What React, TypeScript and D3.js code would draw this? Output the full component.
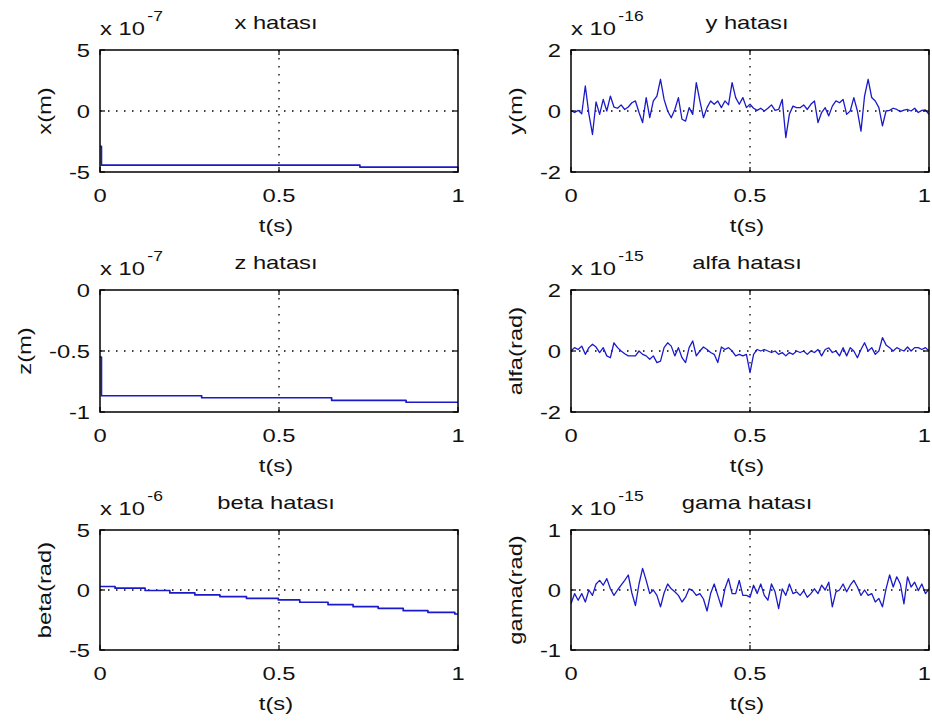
import React from 'react';
import * as d3 from 'd3';

// ---------- data ----------
const X_TICKS = [0, 0.5, 1];
const X_TICK_LABELS = ['0', '0.5', '1'];

// x hatası (x 1e-7) – step data
const X_T = [0, 0.004, 0.726, 1];
const X_V = [-2.9, -4.43, -4.6, -4.6];

// z hatası (x 1e-7) – step data
const Z_T = [0, 0.004, 0.284, 0.647, 0.855, 1];
const Z_V = [-0.55, -0.867, -0.883, -0.904, -0.92, -0.92];

// beta hatası (x 1e-6) – step data
const B_T = [0, 0.042, 0.126, 0.195, 0.265, 0.335, 0.409, 0.498, 0.558, 0.637, 0.707, 0.777, 0.847, 0.916, 0.991, 1];
const B_V = [0.29, 0.15, -0.04, -0.24, -0.41, -0.55, -0.69, -0.83, -1.02, -1.22, -1.39, -1.53, -1.72, -1.86, -2.0, -2.0];

// sample times of the simulation, 0 : 0.01 : 1
const T_SAMPLES = d3.range(101).map((i) => i / 100);

// y hatası (x 1e-16)
const Y_V = [
  0.02, -0.05, 0.02, -0.09, 0.82, -0.1, -0.77, 0.3, -0.11, 0.38,
  0, 0.49, 0.13, 0.09, 0.2, 0.05, 0.13, 0.27, 0.33, -0.05,
  -0.38, 0.44, -0.22, 0.33, 0.49, 1.04, 0.38, 0, -0.22, 0.05,
  0.44, -0.27, -0.33, 0.11, -0.11, 0.93, 0.33, -0.22, 0.11, 0.33,
  0.22, 0.33, 0.11, 0.33, 0.2, 0.93, 0.44, 0.22, 0.44, 0.11,
  0.22, 0.09, 0.02, 0.09, 0, 0.09, 0.2, 0.02, 0.05, 0.38,
  -0.87, -0.11, 0.16, 0.11, 0.11, 0.2, 0.05, 0.22, 0.33, -0.38,
  -0.05, 0.11, -0.16, 0.16, 0.33, 0.27, 0.38, -0.11, 0, 0.44,
  0, -0.66, 0.49, 1.04, 0.44, 0.33, 0.11, -0.49, 0, 0.02,
  0.09, 0.05, -0.02, 0.03, 0.05, 0, 0.09, -0.05, 0.02, 0.04,
  -0.11,
];

// alfa hatası (x 1e-15)
const A_V = [
  0, 0.11, 0.05, 0.16, -0.11, 0.11, 0.22, 0.13, -0.05, 0.11,
  -0.16, -0.22, 0.27, 0.11, 0, -0.09, -0.16, -0.16, -0.16, 0,
  -0.11, -0.16, -0.27, -0.16, -0.38, -0.33, 0.11, 0.27, 0.16, -0.16,
  0.11, -0.22, -0.38, 0.11, 0.33, -0.16, 0, 0.13, 0.05, -0.05,
  -0.11, -0.38, 0.13, 0.05, 0.11, 0, -0.16, -0.11, -0.16, -0.11,
  -0.71, -0.11, 0.05, 0, 0.05, 0, -0.05, 0, -0.11, -0.05,
  -0.16, -0.05, -0.11, 0, -0.05, 0, -0.11, 0, -0.05, 0.05,
  -0.16, 0.05, 0.1, -0.05, 0, -0.16, 0.11, -0.16, 0.11, 0,
  -0.22, 0.05, 0.27, 0, 0.11, -0.11, 0, 0.44, 0.2, 0.11,
  0, 0.11, 0.05, 0, 0.13, 0, 0.11, 0.11, 0.05, 0.11,
  0,
];

// gama hatası (x 1e-15)
const G_V = [
  -0.23, -0.06, -0.17, -0.06, -0.2, 0, -0.09, 0.1, 0.16, 0.08,
  0.19, 0.02, -0.09, 0, 0.08, 0.16, 0.25, -0.05, -0.26, 0.1,
  0.36, 0.16, -0.06, 0, -0.09, -0.28, -0.05, 0.1, 0.02, -0.03,
  -0.09, -0.2, -0.12, 0.02, -0.01, -0.09, -0.06, -0.15, -0.35, -0.06,
  0.1, -0.09, -0.28, 0.02, 0.19, -0.06, -0.06, 0.16, -0.09, -0.09,
  -0.12, 0.08, -0.06, 0.1, -0.09, -0.17, 0.1, -0.03, -0.31, 0.02,
  -0.09, 0.1, -0.06, -0.03, -0.09, -0.01, -0.12, -0.06, 0.02, -0.06,
  0.08, 0, 0.13, -0.28, -0.03, 0, 0.1, -0.03, 0.08, 0.16,
  0.05, -0.09, 0, -0.09, -0.06, -0.2, -0.14, -0.28, 0.02, 0.25,
  0.05, 0.22, 0.1, -0.23, 0.22, 0.05, 0.13, -0.01, 0.1, -0.06,
  0.02,
];

const TITLES = ['x hatası', 'y hatası', 'z hatası', 'alfa hatası', 'beta hatası', 'gama hatası'];
const YLABELS = ['x(m)', 'y(m)', 'z(m)', 'alfa(rad)', 'beta(rad)', 'gama(rad)'];
const EXPONENTS = ['-7', '-16', '-7', '-15', '-6', '-15'];
const Y_DOMAINS: [number, number][] = [[-5, 5], [-2, 2], [-1, 0], [-2, 2], [-5, 5], [-1, 1]];
const Y_TICKS = [[-5, 0, 5], [-2, 0, 2], [-1, -0.5, 0], [-2, 0, 2], [-5, 0, 5], [-1, 0, 1]];
const Y_TICK_LABELS = [['-5', '0', '5'], ['-2', '0', '2'], ['-1', '-0.5', '0'], ['-2', '0', '2'], ['-5', '0', '5'], ['-1', '0', '1']];

const SERIES = [
  { t: X_T, v: X_V, step: true },
  { t: T_SAMPLES, v: Y_V, step: false },
  { t: Z_T, v: Z_V, step: true },
  { t: T_SAMPLES, v: A_V, step: false },
  { t: B_T, v: B_V, step: true },
  { t: T_SAMPLES, v: G_V, step: false },
];

// ---------- layout ----------
const W = 932;
const H = 725;
const COL_LEFT = [100, 571];
const AX_W = 358;
const ROW_TOP = [50, 290, 530];
const ROW_H = [122, 122, 120];
const FONT = "'Liberation Sans', Arial, Helvetica, sans-serif";
const FS = 19;
const SX = 1.25;
const LINE = '#1a1ac8';
const TEXT = '#111';

const CW: Record<string, number> = { '-': 0.333, '.': 0.278 };
const textW = (s: string, fs = FS) =>
  s.split('').reduce((a, c) => a + (CW[c] ?? 0.556), 0) * fs * SX;

function Txt(props: {
  x: number; y: number; anchor?: string; size?: number; rotate?: number; children: React.ReactNode;
}) {
  const { x, y, anchor = 'start', size = FS, rotate = 0, children } = props;
  return (
    <text
      transform={`translate(${x},${y})${rotate ? ` rotate(${rotate})` : ''} scale(${SX},1)`}
      textAnchor={anchor as any}
      fontSize={size}
      fontFamily={FONT}
      fill={TEXT}
    >
      {children}
    </text>
  );
}

function Panel({ i }: { i: number }) {
  const col = i % 2;
  const row = Math.floor(i / 2);
  const left = COL_LEFT[col];
  const top = ROW_TOP[row];
  const h = ROW_H[row];
  const x = d3.scaleLinear().domain([0, 1]).range([left, left + AX_W]);
  const y = d3.scaleLinear().domain(Y_DOMAINS[i]).range([top + h, top]);
  const s = SERIES[i];
  const pts = s.t.map((t, k) => [t, s.v[k]] as [number, number]);
  const line = d3
    .line<[number, number]>()
    .x((d) => x(d[0]))
    .y((d) => y(d[1]))
    .curve(s.step ? d3.curveStepAfter : d3.curveLinear);
  const yt = Y_TICKS[i];
  const ytl = Y_TICK_LABELS[i];
  const maxW = Math.max(...ytl.map((l) => textW(l)));
  const tickLeft = left - 10 - maxW;
  const ylabX = tickLeft - 18;
  const TL = 5;
  const clipId = `clip${i}`;
  return (
    <g>
      <defs>
        <clipPath id={clipId}>
          <rect x={left} y={top} width={AX_W} height={h} />
        </clipPath>
      </defs>
      <rect x={left} y={top} width={AX_W} height={h} fill="#fff" />
      {/* grid */}
      {X_TICKS.slice(1, -1).map((t) => (
        <line key={`gx${t}`} x1={x(t)} x2={x(t)} y1={top} y2={top + h} stroke="#000" strokeWidth={1.3} strokeDasharray="1.5 6.5" />
      ))}
      {yt.slice(1, -1).map((v) => (
        <line key={`gy${v}`} x1={left} x2={left + AX_W} y1={y(v)} y2={y(v)} stroke="#000" strokeWidth={1.3} strokeDasharray="1.5 6.5" />
      ))}
      {/* data */}
      <path d={line(pts) || ''} fill="none" stroke={LINE} strokeWidth={s.step ? 1.7 : 1.3} clipPath={`url(#${clipId})`} strokeLinejoin="round" />
      {/* ticks */}
      {X_TICKS.map((t) => (
        <g key={`tx${t}`}>
          <line x1={x(t)} x2={x(t)} y1={top + h} y2={top + h - TL} stroke="#000" strokeWidth={1.2} />
          <line x1={x(t)} x2={x(t)} y1={top} y2={top + TL} stroke="#000" strokeWidth={1.2} />
        </g>
      ))}
      {yt.map((v) => (
        <g key={`ty${v}`}>
          <line x1={left} x2={left + TL} y1={y(v)} y2={y(v)} stroke="#000" strokeWidth={1.2} />
          <line x1={left + AX_W} x2={left + AX_W - TL} y1={y(v)} y2={y(v)} stroke="#000" strokeWidth={1.2} />
        </g>
      ))}
      <rect x={left} y={top} width={AX_W} height={h} fill="none" stroke="#000" strokeWidth={1.5} />
      {/* tick labels */}
      {X_TICKS.map((t, k) => {
        const lw = textW(X_TICK_LABELS[k]);
        const cx = Math.min(x(t), W - 1 - lw / 2);
        return (
          <Txt key={`lx${t}`} x={cx} y={top + h + 30} anchor="middle">{X_TICK_LABELS[k]}</Txt>
        );
      })}
      {yt.map((v, k) => (
        <Txt key={`ly${v}`} x={left - 10} y={y(v) + 7} anchor="end">{ytl[k]}</Txt>
      ))}
      {/* labels */}
      <Txt x={left + AX_W / 2 - 3} y={top + h + 60} anchor="middle">t(s)</Txt>
      <Txt x={ylabX} y={top + h / 2} anchor="middle" rotate={-90}>{YLABELS[i]}</Txt>
      <Txt x={left + AX_W / 2 - 3} y={top - 21} anchor="middle">{TITLES[i]}</Txt>
      <Txt x={left} y={top - 15} size={19}>
        <tspan>x 10</tspan>
        <tspan dx={2} dy={-14} fontSize={14}>{EXPONENTS[i]}</tspan>
      </Txt>
    </g>
  );
}

export default function App() {
  return (
    <svg
      width={W}
      height={H}
      viewBox={`0 0 ${W} ${H}`}
      style={{ position: 'absolute', left: 0, top: 0, background: '#fff' }}
    >
      <rect x={0} y={0} width={W} height={H} fill="#fff" />
      {TITLES.map((_, i) => (
        <Panel key={i} i={i} />
      ))}
    </svg>
  );
}
